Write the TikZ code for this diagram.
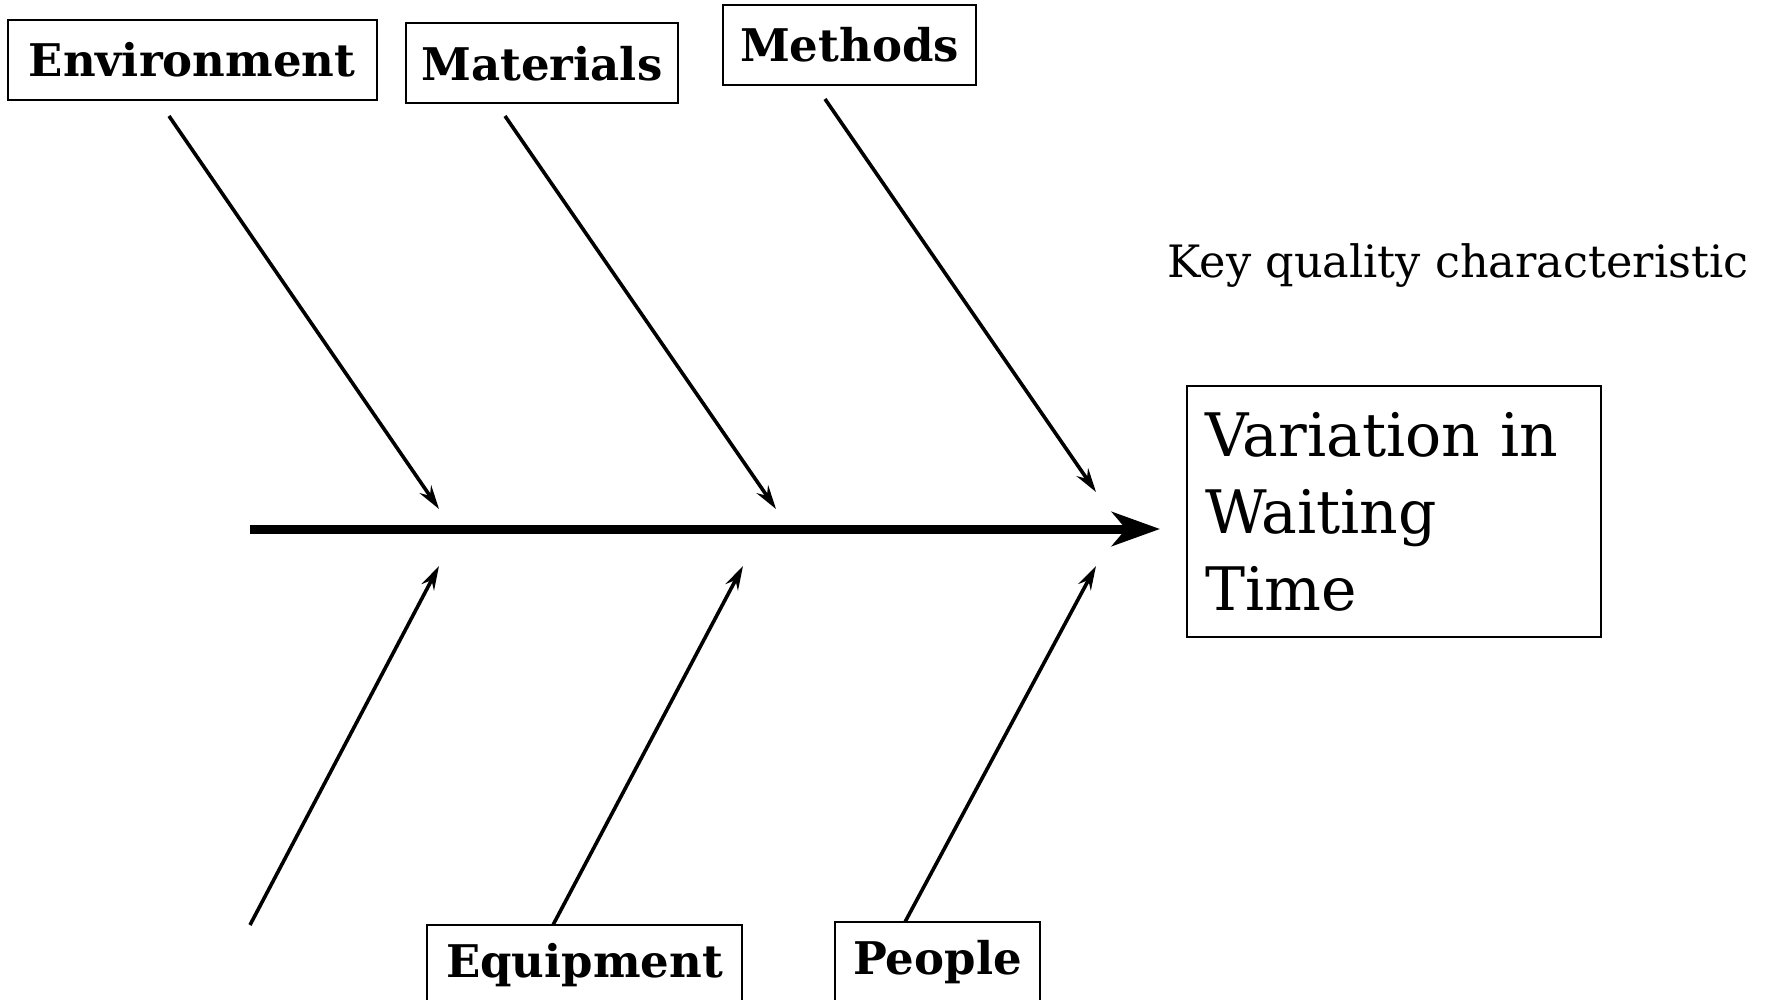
\documentclass[tikz,border=0pt]{standalone}
\usepackage{fontspec}
\setmainfont{DejaVu Serif}
\usetikzlibrary{arrows.meta}

\begin{document}
\begin{tikzpicture}[
    x=0.5pt, y=-0.5pt,
    cause/.style={rectangle, draw=black, line width=1pt, inner sep=0pt,
                  font=\fontsize{22.5}{27}\selectfont\bfseries,
                  minimum height=40pt},
    effect/.style={rectangle, draw=black, line width=0.9pt, align=left,
                   font=\fontsize{30}{38.5}\selectfont,
                   minimum width=206pt, minimum height=125.5pt,
                   text width=189pt, inner xsep=9pt},
    bone/.style={line width=1.8pt,
                 -{Stealth[length=12pt, width=7pt, inset=4pt]}},
    spine/.style={line width=4.5pt,
                  -{Stealth[length=24pt, width=17pt, inset=7pt]}},
]
\useasboundingbox (0,0) rectangle (1779,1000);
\clip (0,0) rectangle (1779,1000);

% ---------- Cause boxes ----------
\node[cause, minimum width=184.5pt] (env)   at (192, 60)    {Environment};
\node[cause, minimum width=136pt]   (mat)   at (542, 63.5)  {Materials};
\node[cause, minimum width=126.5pt] (meth)  at (849.5, 45)  {Methods};
\node[cause, minimum width=157.5pt] (equip) at (584.5, 965) {Equipment};
\node[cause, minimum width=102.5pt] (peop)  at (937.5, 962) {People};

% ---------- Effect ----------
\node[effect] (effect) at (1394, 511.5) {Variation in\\Waiting\\Time};
\node[font=\fontsize{22.3}{26}\selectfont] (kqc) at (1458, 266)
    {Key quality characteristic};

% ---------- Spine ----------
\coordinate (tail) at (250, 529);
\coordinate (head) at (1160, 529);
\draw[spine] (tail) -- (head);

% ---------- Bones ----------
\coordinate (envA)  at (169, 116);  \coordinate (envB)  at (439, 509);
\coordinate (matA)  at (505, 116);  \coordinate (matB)  at (776, 509);
\coordinate (methA) at (825, 99);   \coordinate (methB) at (1096, 492);
\coordinate (lowA)  at (250, 925);  \coordinate (lowB)  at (439, 566);
\coordinate (eqA)   at (553, 925);  \coordinate (eqB)   at (743, 566);
\coordinate (peA)   at (905, 922);  \coordinate (peB)   at (1096, 566);

\draw[bone] (envA)  -- (envB);
\draw[bone] (matA)  -- (matB);
\draw[bone] (methA) -- (methB);
\draw[bone] (lowA)  -- (lowB);
\draw[bone] (eqA)   -- (eqB);
\draw[bone] (peA)   -- (peB);

\end{tikzpicture}
\end{document}
